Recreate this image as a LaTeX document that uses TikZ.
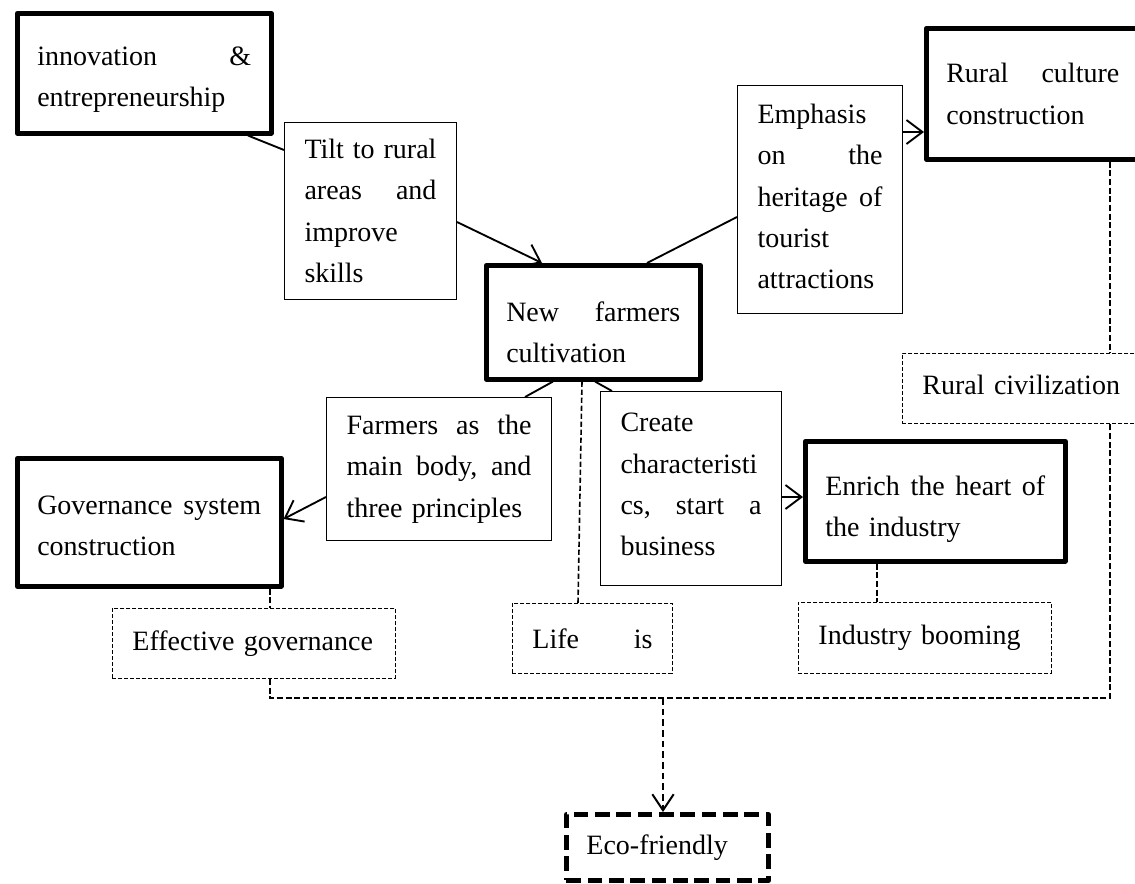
\documentclass[tikz,border=0pt]{standalone}
\usepackage{fontspec}
\setmainfont{Liberation Serif}
\usetikzlibrary{calc,arrows.meta}
\newcommand{\Up}[1]{\rule{0pt}{#1pt}}
\newcommand{\Dn}[1]{\rule[-#1pt]{0pt}{#1pt}}
\begin{document}
\begin{tikzpicture}[x=0.75pt,y=-0.75pt,
  every node/.style={font=\fontsize{21}{31}\selectfont, inner xsep=15pt, inner ysep=2pt, anchor=north west, align=left},
  heavybox/.style={draw, line width=3.4pt, line join=round},
  lightbox/.style={draw, line width=0.75pt},
  dashbox/.style={draw, line width=0.7pt, dash pattern=on 3pt off 1.5pt},
  ecobox/.style={draw, line width=3.6pt, dash pattern=on 11pt off 5pt, line join=round},
  link/.style={line width=1.4pt},
  arrowlink/.style={link, -{Straight Barb[length=12pt,width=18pt,line width=1.4pt]}},
  busline/.style={line width=1pt, dash pattern=on 4.5pt off 2pt},
  midline/.style={line width=1.2pt, dash pattern=on 4pt off 2pt},
  ecolink/.style={line width=1.5pt, dash pattern=on 5pt off 3pt, -{Straight Barb[length=12pt,width=16pt,line width=1.5pt]}}
]
\useasboundingbox (0,0) rectangle (1135,883);

% thick boxes
\node[heavybox, text width=160.5pt, minimum height=90pt] (innov) at (15,11)
  {\Up{24}innovation\hfill\&\\ entrepreneurship};
\node[heavybox, text width=130.5pt, minimum height=85.5pt] (new) at (484,263)
  {\Up{30}New\hfill farmers\\ cultivation};
\node[heavybox, text width=133.5pt, minimum height=98.25pt] (rural) at (924,26)
  {\makebox[129.75pt][l]{Rural\hfill culture}\\ construction};
\node[heavybox, text width=168pt, minimum height=96pt] (gov) at (15,456)
  {\Up{19}Governance\hfill system\\ construction};
\node[heavybox, text width=165pt, minimum height=90pt] (enrich) at (803,439)
  {\Up{27}Enrich\hfill the\hfill heart\hfill of\\ the industry};
\node[ecobox, text width=121.5pt, minimum height=49.5pt] (eco) at (564,812)
  {Eco-friendly};

% thin boxes
\node[lightbox, text width=99pt, minimum height=132.75pt] (tilt) at (284,122)
  {Tilt\hfill to\hfill rural\\ areas\hfill and\\ improve\\ skills};
\node[lightbox, text width=93.75pt, minimum height=171pt] (emph) at (737,85)
  {\Up{19}Emphasis\\ on\hfill the\\ heritage\hfill of\\ tourist\\ attractions\Dn{9}};
\node[lightbox, text width=138.75pt, minimum height=107.25pt] (farm) at (326,397)
  {Farmers\hfill as\hfill the\\ main\hfill body,\hfill and\\ three principles};
\node[lightbox, text width=105.75pt, minimum height=145.5pt] (create) at (600,391)
  {Create\\ characteristi\\ cs,\hfill start\hfill a\\ business\Dn{6}};

% dashed boxes
\node[dashbox, text width=163.5pt, minimum height=52.5pt] (civ) at (902,353)
  {Rural civilization\Dn{6}};
\node[dashbox, text width=182.25pt, minimum height=52.5pt] (eff) at (112,608)
  {Effective governance};
\node[dashbox, text width=90pt, minimum height=52.5pt] (life) at (512,603)
  {Life\hfill is};
\node[dashbox, text width=159.75pt, minimum height=53.25pt] (ind) at (798,602)
  {Industry booming};

% solid connectors
\draw[link] ($(innov.south west)+(233,0)$) -- ($(tilt.north west)+(0,28)$);
\draw[arrowlink] ($(tilt.north east)+(0,100)$) -- ($(new.north west)+(58,0)$);
\draw[link] ($(new.north west)+(163,0)$) -- ($(emph.north west)+(0,132)$);
\draw[arrowlink] ($(emph.north east)+(0,47)$) -- ($(rural.north west)+(0,106)$);
\draw[link] ($(new.south west)+(69,0)$) -- ($(farm.north west)+(199,0)$);
\draw[arrowlink] ($(farm.north west)+(0,100)$) -- ($(gov.north east)+(0,63)$);
\draw[link] ($(new.south west)+(111,0)$) -- ($(create.north west)+(12,0)$);
\draw[arrowlink] ($(create.north east)+(0,106)$) -- ($(enrich.north west)+(0,58)$);

% dashed connectors
\draw[midline] ($(new.south west)+(98,0)$) -- ($(life.north west)+(66,0)$);
\draw[busline] ($(rural.south west)+(186,0)$) -- ($(civ.north west)+(208,0)$);
\draw[busline] ($(gov.south west)+(255,0)$) -- ($(eff.north west)+(158,0)$);
\draw[busline] ($(enrich.south west)+(74,0)$) -- ($(ind.north west)+(79,0)$);

\coordinate (busR) at (1110,698);
\coordinate (busM) at (663,698);
\draw[busline] ($(eff.south west)+(158,0)$) |- (busR) -- ($(civ.south west)+(208,0)$);
\draw[busline] ($(life.south west)+(64,0)$) -- ($(life.south west)+(64,0)$ |- busR);
\draw[busline] ($(ind.south west)+(79,0)$) -- ($(ind.south west)+(79,0)$ |- busR);
\draw[ecolink] (busM) -- (busM |- eco.north);
\end{tikzpicture}
\end{document}
